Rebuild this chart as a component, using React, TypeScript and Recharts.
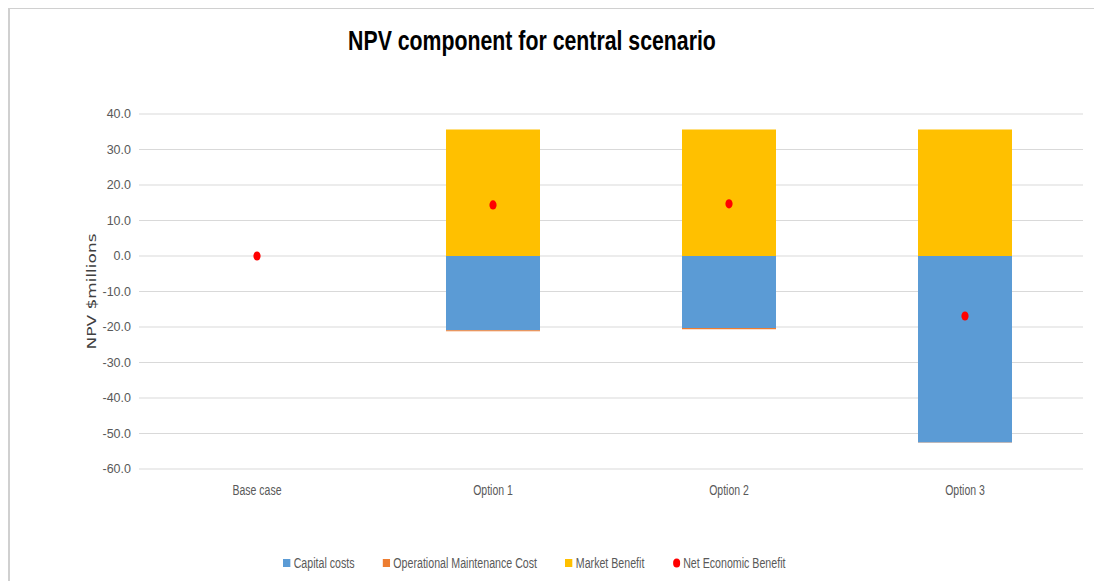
import React from 'react'
import { ComposedChart, Bar, Scatter, XAxis, YAxis, CartesianGrid, Legend, Label } from 'recharts'

const categories = ['Base case', 'Option 1', 'Option 2', 'Option 3']
const capitalCosts = [0, -20.9, -20.3, -52.5]
const omCost = [0, -0.3, -0.3, -0.1]
const marketBenefit = [0, 35.6, 35.6, 35.6]
const netBenefit = [0, 14.4, 14.7, -16.9]
const yTicks = [40, 30, 20, 10, 0, -10, -20, -30, -40, -50, -60]
const legendOrder = ['Capital costs', 'Operational Maintenance Cost', 'Market Benefit', 'Net Economic Benefit']

const data = categories.map((name, i) => ({
  name,
  capital: capitalCosts[i],
  om: omCost[i],
  market: marketBenefit[i],
  net: netBenefit[i],
}))

const SANS = "'Liberation Sans', Arial, sans-serif"

// Excel draws the net benefit marker as a slightly tall red dot
const NetDot = (props: any) => {
  const { cx, cy } = props
  if (cx == null || cy == null) return <g />
  return <ellipse cx={cx} cy={cy} rx={3.6} ry={4.6} fill="#FF0000" />
}

// category labels are squeezed like the Calibri labels in the original
const XTick = (props: any) => {
  const { x, y, payload } = props
  return (
    <g transform={`translate(${x},${y})`}>
      <text transform="scale(0.75,1)" textAnchor="middle" dy="0.71em" fontSize={14} fill="#595959" fontFamily={SANS}>
        {payload.value}
      </text>
    </g>
  )
}

const renderLegend = (props: any) => {
  const payload = [...(props.payload || [])].sort(
    (a: any, b: any) => legendOrder.indexOf(a.value) - legendOrder.indexOf(b.value)
  )
  return (
    <div
      style={{
        display: 'flex',
        alignItems: 'center',
        whiteSpace: 'nowrap',
        fontFamily: SANS,
        fontSize: 14,
        color: '#595959',
        transform: 'scaleX(0.76)',
        transformOrigin: 'left center',
        height: 18,
      }}
    >
      {payload.map((entry: any) => (
        <div key={entry.value} style={{ display: 'flex', alignItems: 'center', marginRight: 37 }}>
          {entry.type === 'circle' ? (
            <svg width={10} height={10} style={{ marginRight: 4 }}>
              <ellipse cx={5} cy={5} rx={4.7} ry={4.6} fill={entry.color} />
            </svg>
          ) : (
            <svg width={10} height={8} style={{ marginRight: 4 }}>
              <rect width={10} height={8} fill={entry.color} />
            </svg>
          )}
          <span>{entry.value}</span>
        </div>
      ))}
    </div>
  )
}

const renderYLabel = (props: any) => {
  const vb = props.viewBox || {}
  const x = vb.x + 12
  const y = vb.y + vb.height / 2
  return (
    <text
      x={x}
      y={y}
      transform={`rotate(-90 ${x} ${y})`}
      textAnchor="middle"
      dominantBaseline="central"
      fill="#404040"
      fontSize={13}
      fontFamily="'DejaVu Sans', sans-serif"
      textLength={116}
      lengthAdjust="spacingAndGlyphs"
    >
      NPV $millions
    </text>
  )
}

export default function App() {
  return (
    <div style={{ position: 'relative', width: 1094, height: 573, background: '#fff' }}>
      <div
        style={{
          position: 'absolute',
          left: 0,
          top: -1,
          right: -8,
          bottom: -8,
          borderTop: '2px solid #d0d0d0',
          borderLeft: '2px solid #d0d0d0',
          pointerEvents: 'none',
        }}
      />
      <div
        style={{
          position: 'absolute',
          left: 224,
          top: 17,
          width: 600,
          textAlign: 'center',
          whiteSpace: 'nowrap',
          fontFamily: SANS,
          fontWeight: 'bold',
          fontSize: 28,
          color: '#000',
          transform: 'scaleX(0.76)',
          transformOrigin: 'center',
        }}
      >
        NPV component for central scenario
      </div>
      <ComposedChart
        width={1094}
        height={573}
        data={data}
        stackOffset="sign"
        margin={{ top: 106, right: 19, bottom: 82, left: 71 }}
      >
        <CartesianGrid vertical={false} stroke="#d9d9d9" strokeWidth={1.2} />
        <XAxis dataKey="name" height={30} axisLine={false} tickLine={false} tickMargin={10} tick={<XTick />} />
        <YAxis
          width={60}
          domain={[-60, 40]}
          ticks={yTicks}
          interval={0}
          axisLine={false}
          tickLine={false}
          tickFormatter={(v: number) => v.toFixed(1)}
          tick={{ fontSize: 12.5, fill: '#595959', fontFamily: SANS }}
        >
          <Label content={renderYLabel} />
        </YAxis>
        <Bar dataKey="capital" name="Capital costs" stackId="npv" fill="#5B9BD5" barSize={94} isAnimationActive={false} />
        <Bar dataKey="om" name="Operational Maintenance Cost" stackId="npv" fill="#ED7D31" barSize={94} isAnimationActive={false} />
        <Bar dataKey="market" name="Market Benefit" stackId="npv" fill="#FFC000" barSize={94} isAnimationActive={false} />
        <Scatter dataKey="net" name="Net Economic Benefit" fill="#FF0000" legendType="circle" shape={NetDot} isAnimationActive={false} />
        <Legend
          layout="horizontal"
          verticalAlign="middle"
          align="center"
          content={renderLegend}
          wrapperStyle={{ left: 275, top: 546, width: 700, height: 18 }}
        />
      </ComposedChart>
    </div>
  )
}
